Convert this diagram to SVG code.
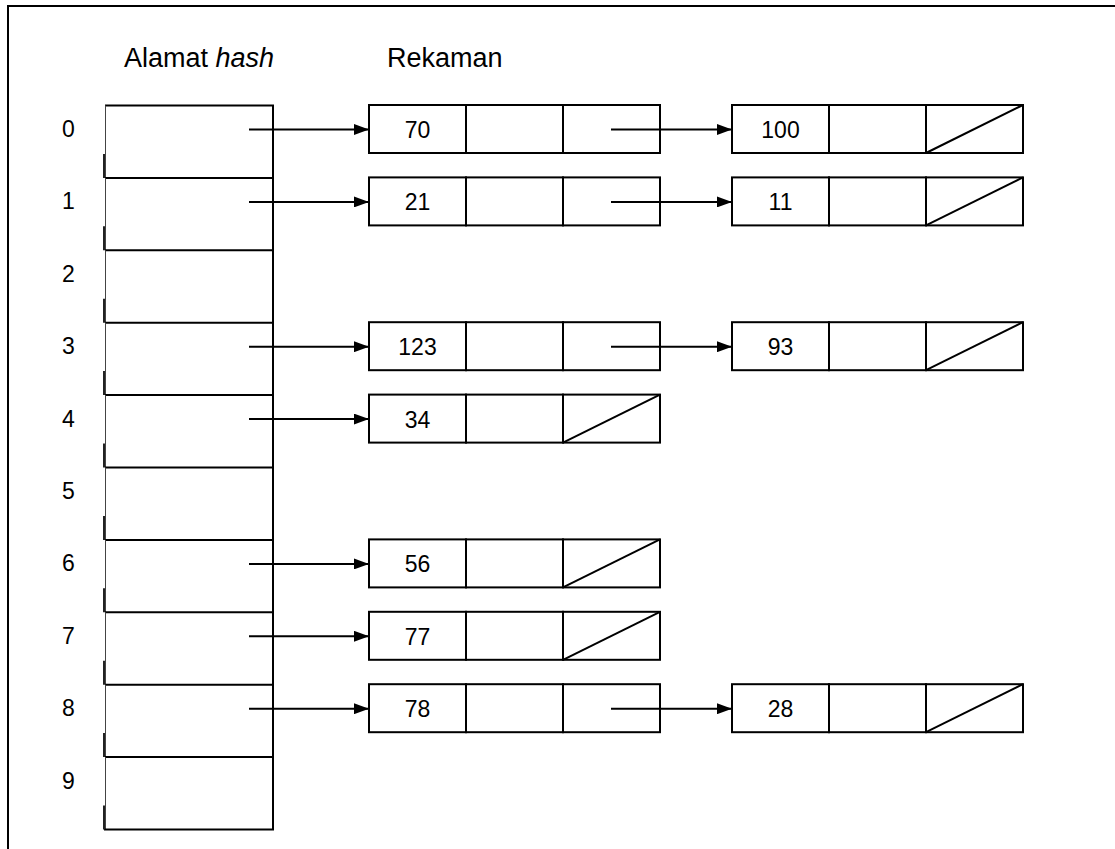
<svg xmlns="http://www.w3.org/2000/svg" width="1115" height="849" viewBox="0 0 1115 849">
  <style>
    .frame { fill: none; stroke: #000; stroke-width: 2; }
    .hdr { font-family: "Liberation Sans", Arial, sans-serif; font-size: 27px; fill: #000; }
    .idx { font-family: "Liberation Sans", Arial, sans-serif; font-size: 23px; fill: #000; }
    .val { font-family: "Liberation Sans", Arial, sans-serif; font-size: 23px; fill: #000; text-anchor: middle; }
    .slot-h { stroke: #000; stroke-width: 2; }
    .slot-l { stroke: #444; stroke-width: 1; }
    .slot-r { stroke: #000; stroke-width: 2; }
    .tick { stroke: #222; stroke-width: 2; }
    .cell { fill: #fff; stroke: #000; stroke-width: 2; }
    .nil { stroke: #000; stroke-width: 2; }
    .link { stroke: #000; stroke-width: 2; fill: none; marker-end: url(#head); }
  </style>
  <defs>
    <marker id="head" markerWidth="15" markerHeight="11" refX="15" refY="5.5" orient="auto" markerUnits="userSpaceOnUse">
      <path d="M0,0 L15,5.5 L0,11 Z" fill="#000"/>
    </marker>
    <!-- three-field record: key | data | next pointer -->
    <g id="rec">
      <rect class="cell" x="0" y="0" width="97" height="48"/>
      <rect class="cell" x="97" y="0" width="97" height="48"/>
      <rect class="cell" x="194" y="0" width="97" height="48"/>
    </g>
    <!-- empty next pointer -->
    <line id="null" class="nil" x1="194" y1="48" x2="291" y2="0"/>
  </defs>

  <rect width="1115" height="849" fill="#fff"/>
  <path class="frame" d="M8,849 V6 H1115"/>

  <text class="hdr" x="124" y="67">Alamat <tspan font-style="italic">hash</tspan></text>
  <text class="hdr" x="387" y="67">Rekaman</text>

  <!-- hash table slots -->
  <g id="slot0"><line class="slot-h" x1="105" y1="105.5" x2="274" y2="105.5"/><line class="slot-l" x1="105.5" y1="105.5" x2="105.5" y2="177.9"/><line class="slot-r" x1="273" y1="105.5" x2="273" y2="177.9"/><line class="tick" x1="104" y1="153.9" x2="104" y2="177.9"/><text class="idx" x="62" y="137">0</text></g>
  <g id="slot1"><line class="slot-h" x1="105" y1="177.9" x2="274" y2="177.9"/><line class="slot-l" x1="105.5" y1="177.9" x2="105.5" y2="250.3"/><line class="slot-r" x1="273" y1="177.9" x2="273" y2="250.3"/><line class="tick" x1="104" y1="226.3" x2="104" y2="250.3"/><text class="idx" x="62" y="209.4">1</text></g>
  <g id="slot2"><line class="slot-h" x1="105" y1="250.3" x2="274" y2="250.3"/><line class="slot-l" x1="105.5" y1="250.3" x2="105.5" y2="322.7"/><line class="slot-r" x1="273" y1="250.3" x2="273" y2="322.7"/><line class="tick" x1="104" y1="298.7" x2="104" y2="322.7"/><text class="idx" x="62" y="281.8">2</text></g>
  <g id="slot3"><line class="slot-h" x1="105" y1="322.7" x2="274" y2="322.7"/><line class="slot-l" x1="105.5" y1="322.7" x2="105.5" y2="395.1"/><line class="slot-r" x1="273" y1="322.7" x2="273" y2="395.1"/><line class="tick" x1="104" y1="371.1" x2="104" y2="395.1"/><text class="idx" x="62" y="354.2">3</text></g>
  <g id="slot4"><line class="slot-h" x1="105" y1="395.1" x2="274" y2="395.1"/><line class="slot-l" x1="105.5" y1="395.1" x2="105.5" y2="467.5"/><line class="slot-r" x1="273" y1="395.1" x2="273" y2="467.5"/><line class="tick" x1="104" y1="443.5" x2="104" y2="467.5"/><text class="idx" x="62" y="426.6">4</text></g>
  <g id="slot5"><line class="slot-h" x1="105" y1="467.5" x2="274" y2="467.5"/><line class="slot-l" x1="105.5" y1="467.5" x2="105.5" y2="539.9"/><line class="slot-r" x1="273" y1="467.5" x2="273" y2="539.9"/><line class="tick" x1="104" y1="515.9" x2="104" y2="539.9"/><text class="idx" x="62" y="499">5</text></g>
  <g id="slot6"><line class="slot-h" x1="105" y1="539.9" x2="274" y2="539.9"/><line class="slot-l" x1="105.5" y1="539.9" x2="105.5" y2="612.3"/><line class="slot-r" x1="273" y1="539.9" x2="273" y2="612.3"/><line class="tick" x1="104" y1="588.3" x2="104" y2="612.3"/><text class="idx" x="62" y="571.4">6</text></g>
  <g id="slot7"><line class="slot-h" x1="105" y1="612.3" x2="274" y2="612.3"/><line class="slot-l" x1="105.5" y1="612.3" x2="105.5" y2="684.7"/><line class="slot-r" x1="273" y1="612.3" x2="273" y2="684.7"/><line class="tick" x1="104" y1="660.7" x2="104" y2="684.7"/><text class="idx" x="62" y="643.8">7</text></g>
  <g id="slot8"><line class="slot-h" x1="105" y1="684.7" x2="274" y2="684.7"/><line class="slot-l" x1="105.5" y1="684.7" x2="105.5" y2="757.1"/><line class="slot-r" x1="273" y1="684.7" x2="273" y2="757.1"/><line class="tick" x1="104" y1="733.1" x2="104" y2="757.1"/><text class="idx" x="62" y="716.2">8</text></g>
  <g id="slot9"><line class="slot-h" x1="105" y1="757.1" x2="274" y2="757.1"/><line class="slot-l" x1="105.5" y1="757.1" x2="105.5" y2="829.5"/><line class="slot-r" x1="273" y1="757.1" x2="273" y2="829.5"/><line class="slot-h" x1="104" y1="829.5" x2="274" y2="829.5"/><line class="tick" x1="104" y1="805.5" x2="104" y2="829.5"/><text class="idx" x="62" y="788.6">9</text></g>

  <!-- chained records -->
  <g id="r70" transform="translate(369,105)"><use href="#rec"/><text class="val" x="48.5" y="33">70</text></g>
  <g id="r100" transform="translate(732,105)"><use href="#rec"/><use href="#null"/><text class="val" x="48.5" y="33">100</text></g>
  <g id="r21" transform="translate(369,177.4)"><use href="#rec"/><text class="val" x="48.5" y="33">21</text></g>
  <g id="r11" transform="translate(732,177.4)"><use href="#rec"/><use href="#null"/><text class="val" x="48.5" y="33">11</text></g>
  <g id="r123" transform="translate(369,322.2)"><use href="#rec"/><text class="val" x="48.5" y="33">123</text></g>
  <g id="r93" transform="translate(732,322.2)"><use href="#rec"/><use href="#null"/><text class="val" x="48.5" y="33">93</text></g>
  <g id="r34" transform="translate(369,394.6)"><use href="#rec"/><use href="#null"/><text class="val" x="48.5" y="33">34</text></g>
  <g id="r56" transform="translate(369,539.4)"><use href="#rec"/><use href="#null"/><text class="val" x="48.5" y="33">56</text></g>
  <g id="r77" transform="translate(369,611.8)"><use href="#rec"/><use href="#null"/><text class="val" x="48.5" y="33">77</text></g>
  <g id="r78" transform="translate(369,684.2)"><use href="#rec"/><text class="val" x="48.5" y="33">78</text></g>
  <g id="r28" transform="translate(732,684.2)"><use href="#rec"/><use href="#null"/><text class="val" x="48.5" y="33">28</text></g>

  <!-- pointers -->
  <g id="connectors">
    <line class="link" x1="249" y1="129.5" x2="369" y2="129.5"/>
    <line class="link" x1="611" y1="129.5" x2="732" y2="129.5"/>
    <line class="link" x1="249" y1="201.9" x2="369" y2="201.9"/>
    <line class="link" x1="611" y1="201.9" x2="732" y2="201.9"/>
    <line class="link" x1="249" y1="346.7" x2="369" y2="346.7"/>
    <line class="link" x1="611" y1="346.7" x2="732" y2="346.7"/>
    <line class="link" x1="249" y1="419.1" x2="369" y2="419.1"/>
    <line class="link" x1="249" y1="563.9" x2="369" y2="563.9"/>
    <line class="link" x1="249" y1="636.3" x2="369" y2="636.3"/>
    <line class="link" x1="249" y1="708.7" x2="369" y2="708.7"/>
    <line class="link" x1="611" y1="708.7" x2="732" y2="708.7"/>
  </g>
</svg>
